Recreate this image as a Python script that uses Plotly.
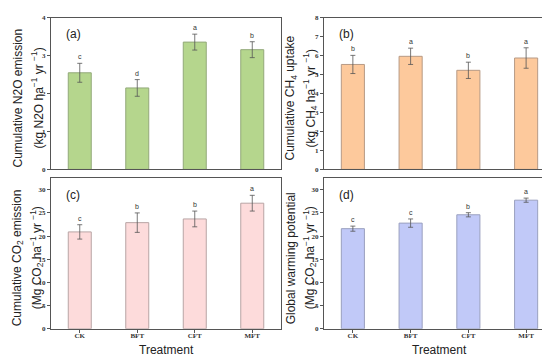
import plotly.graph_objects as go

categories = ["CK", "BFT", "CFT", "MFT"]

n2o_mean = [2.55, 2.15, 3.36, 3.16]
n2o_err = [0.25, 0.22, 0.21, 0.21]
n2o_letters = ["c", "d", "a", "b"]

ch4_mean = [5.54, 5.97, 5.23, 5.88]
ch4_err = [0.48, 0.43, 0.43, 0.54]
ch4_letters = ["b", "a", "b", "a"]

co2_mean = [20.9, 22.9, 23.7, 27.1]
co2_err = [1.55, 2.1, 1.7, 1.7]
co2_letters = ["c", "b", "b", "a"]

gwp_mean = [21.6, 22.8, 24.6, 27.75]
gwp_err = [0.55, 0.9, 0.45, 0.45]
gwp_letters = ["c", "c", "b", "a"]

panels = [
    dict(mean=n2o_mean, err=n2o_err, letters=n2o_letters, fill="#b5d68d", edge="#93a97a",
         label="(a)", yrange=[0, 4], dtick=1,
         t1="Cumulative N2O emission", t2="(kg N2O ha<sup>−1</sup> yr <sup>−1</sup>)"),
    dict(mean=ch4_mean, err=ch4_err, letters=ch4_letters, fill="#fdc99c", edge="#b79a85",
         label="(b)", yrange=[0, 8], dtick=1,
         t1="Cumulative CH<sub>4</sub> uptake", t2="(kg CH<sub>4</sub> ha<sup>−1</sup> yr <sup>−1</sup>)"),
    dict(mean=co2_mean, err=co2_err, letters=co2_letters, fill="#fddbdb", edge="#b8a4a4",
         label="(c)", yrange=[0, 32.5], dtick=5,
         t1="Cumulative CO<sub>2</sub> emission", t2="(Mg CO<sub>2</sub> ha<sup>−1</sup> yr <sup>−1</sup>)"),
    dict(mean=gwp_mean, err=gwp_err, letters=gwp_letters, fill="#c1c9f8", edge="#9aa0bf",
         label="(d)", yrange=[0, 32.5], dtick=5,
         t1="Global warming potential", t2="(Mg CO<sub>2</sub> ha<sup>−1</sup> yr <sup>−1</sup>)"),
]

W, H = 550, 356
boxes = [  # left, right, top, bottom in px
    (43, 273, 6, 161),
    (316, 547, 6, 161),
    (43, 273, 170, 324),
    (316, 547, 170, 324),
]

fig = go.Figure()
annotations = []
sans = "Liberation Sans, Arial, sans-serif"
serif = "Liberation Serif, Times New Roman, serif"

for i, (p, (l, r, t, b)) in enumerate(zip(panels, boxes)):
    n = i + 1
    xa = "x" if n == 1 else f"x{n}"
    ya = "y" if n == 1 else f"y{n}"
    fig.add_trace(go.Bar(
        x=categories, y=p["mean"], width=0.4,
        marker=dict(color=p["fill"], line=dict(color=p["edge"], width=1)),
        error_y=dict(type="data", array=p["err"], visible=True, color="#555555",
                     thickness=0.8, width=2.5),
        xaxis=xa, yaxis=ya, showlegend=False, hoverinfo="skip",
    ))
    for c, m, e, letter in zip(categories, p["mean"], p["err"], p["letters"]):
        annotations.append(dict(
            x=c, y=m + e, xref=xa, yref=ya, text=letter, showarrow=False,
            xanchor="center", yanchor="bottom", yshift=1,
            font=dict(family=sans, size=7, color="#333333"),
        ))
    xd = [l / W, r / W]
    yd = [1 - b / H, 1 - t / H]
    axkey = "xaxis" if n == 1 else f"xaxis{n}"
    aykey = "yaxis" if n == 1 else f"yaxis{n}"
    bottom_row = n >= 3
    fig.layout[axkey] = dict(
        domain=xd, anchor=ya, range=[-0.5, 3.5], type="category",
        showline=True, mirror=True, linecolor="#555555", linewidth=1,
        ticks="outside" if bottom_row else "", ticklen=3, tickcolor="#555555",
        showticklabels=bottom_row, ticklabelstandoff=-3,
        tickfont=dict(family=serif, size=7, color="#333333", weight="bold"),
        showgrid=False, zeroline=False,
    )
    fig.layout[aykey] = dict(
        domain=yd, anchor=xa, range=p["yrange"], dtick=p["dtick"],
        showline=True, mirror=True, linecolor="#555555", linewidth=1,
        ticks="outside", ticklen=3, tickcolor="#555555",
        tickfont=dict(family=serif, size=7, color="#333333", weight="bold"),
        showgrid=False, zeroline=False,
    )
    # panel label
    annotations.append(dict(
        x=(l + 13) / W, y=1 - (t + 17) / H, xref="paper", yref="paper",
        text=p["label"], showarrow=False, xanchor="left", yanchor="middle",
        font=dict(family=sans, size=12, color="#222222"),
    ))
    # y titles (two lines)
    cy = 1 - ((t + b) / 2 + 5) / H
    annotations.append(dict(
        x=(l - 33) / W, y=cy, xref="paper", yref="paper", text=p["t1"],
        textangle=-90, showarrow=False, xanchor="center", yanchor="middle",
        font=dict(family=sans, size=12, color="#222222"),
    ))
    annotations.append(dict(
        x=(l - 14) / W, y=cy, xref="paper", yref="paper", text=p["t2"],
        textangle=-90, showarrow=False, xanchor="center", yanchor="middle",
        font=dict(family=sans, size=12, color="#222222"),
    ))
    if bottom_row:
        annotations.append(dict(
            x=(l + r) / 2 / W, y=1 - 346 / H, xref="paper", yref="paper",
            text="Treatment", showarrow=False, xanchor="center", yanchor="middle",
            font=dict(family=sans, size=12, color="#222222"),
        ))

fig.update_layout(
    width=W, height=H, margin=dict(l=0, r=0, t=0, b=0),
    paper_bgcolor="white", plot_bgcolor="white",
    annotations=annotations, bargap=0.6,
)
fig.write_html("out.html")
